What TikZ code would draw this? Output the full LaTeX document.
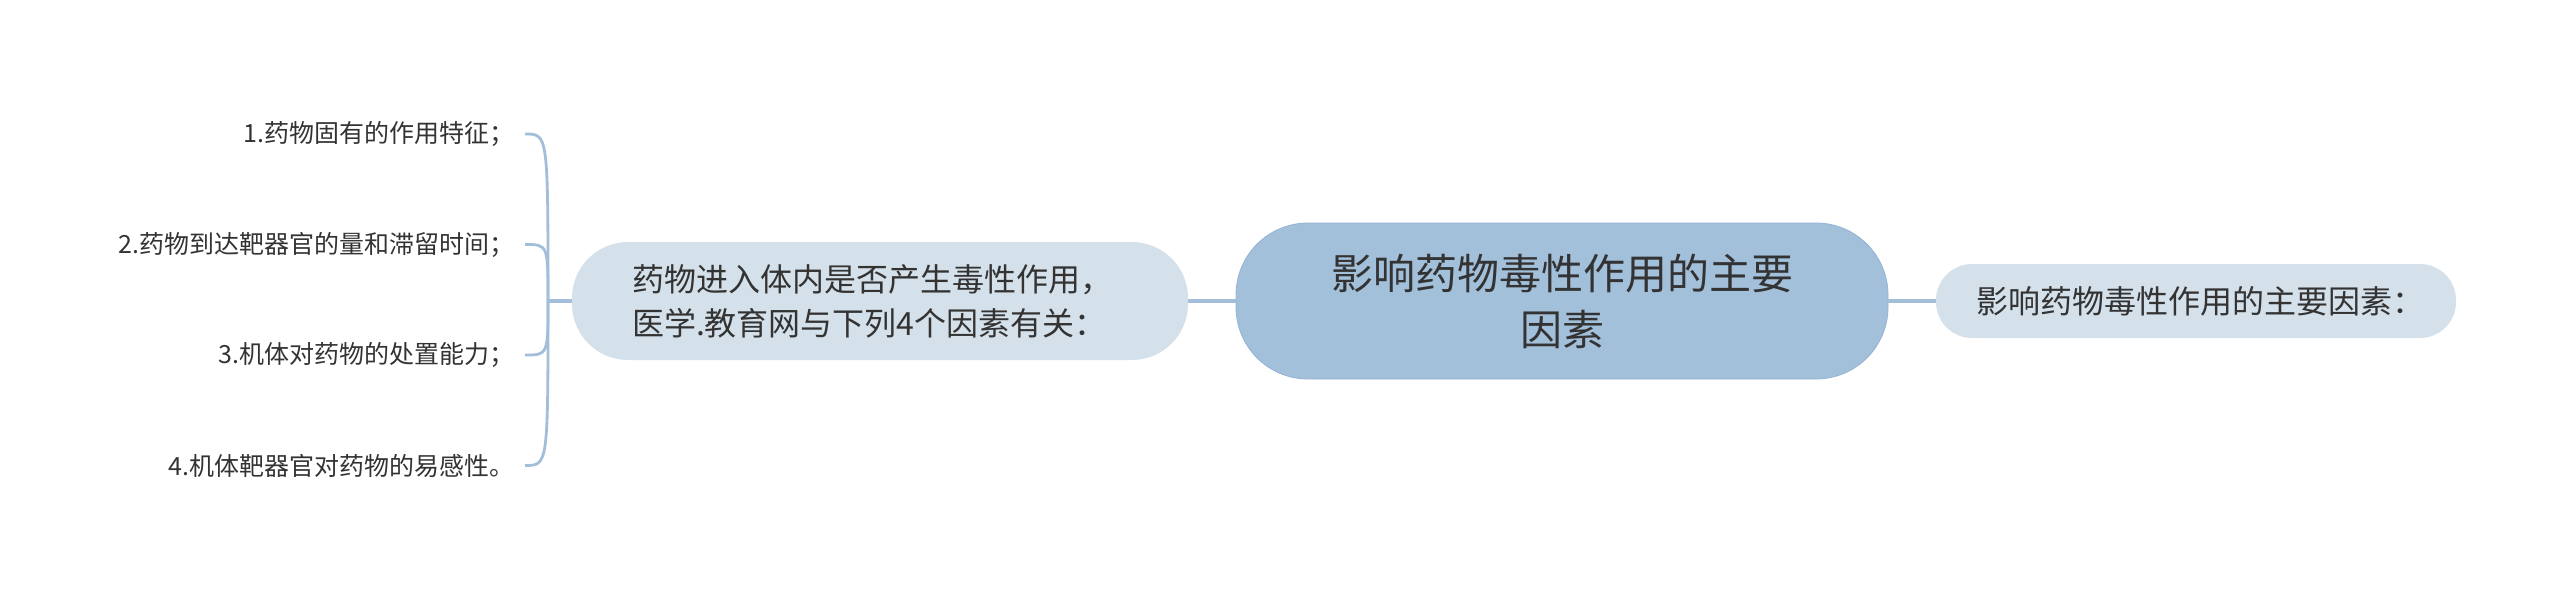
\documentclass[tikz,border=0pt]{standalone}
\usepackage{fontspec}
\setmainfont{Noto Sans CJK SC}
\definecolor{rootblue}{HTML}{A3C0DB}
\definecolor{rootedge}{HTML}{93B3D3}
\definecolor{subblue}{HTML}{D5E1EA}
\definecolor{linkblue}{HTML}{A3BED8}
\definecolor{txt}{HTML}{333333}
\begin{document}
\begin{tikzpicture}[x=0.5pt,y=-0.5pt,
  root/.style={draw=rootedge,fill=rootblue,rounded corners=36pt,minimum width=326pt,minimum height=78pt,align=center,text=txt,font=\fontsize{21}{28}\selectfont},
  sub/.style={fill=subblue,text=txt,align=left,font=\fontsize{16}{22}\selectfont},
  leaf/.style={text=txt,anchor=east,inner xsep=5pt,font=\fontsize{12.5}{14}\selectfont},
  link/.style={draw=linkblue,line width=1.6pt},
  brace/.style={draw=linkblue,line width=1.4pt}]
\useasboundingbox (0,0) rectangle (2560,600);

% centre and first level
\node[root] (root) at (1562,301) {影响药物毒性作用的主要\\因素};
\node[sub,rounded corners=28pt,minimum width=308pt,minimum height=59pt,inner xsep=30pt,text width=248pt] (cause) at (880,301) {药物进入体内是否产生毒性作用，\\医学.教育网与下列4个因素有关：};
\node[sub,rounded corners=18pt,minimum width=260pt,minimum height=37pt,inner xsep=20pt,text width=220pt] (main) at (2196,301) {影响药物毒性作用的主要因素：};
\draw[link] (cause.east) -- (root.west);
\draw[link] (root.east) -- (main.west);

% the four factors
\coordinate (spine) at (548,301);
\draw[link] (cause.west) -- (spine);
\foreach \t [count=\i] in {1.药物固有的作用特征；,2.药物到达靶器官的量和滞留时间；,3.机体对药物的处置能力；,4.机体靶器官对药物的易感性。}{
  \pgfmathsetmacro\y{134+(\i-1)*110.5}
  \node[leaf] (factor\i) at (525,\y) {\t};
  \draw[brace] (spine) .. controls (548,\y) and (548,\y) .. (factor\i.east);
}
\end{tikzpicture}
\end{document}
